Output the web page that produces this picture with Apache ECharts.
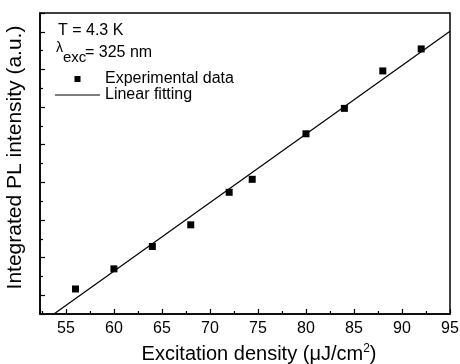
<!DOCTYPE html>
<html>
<head>
<meta charset="utf-8">
<script src="https://cdn.jsdelivr.net/npm/echarts@6/dist/echarts.min.js"></script>
<style>
  html, body { margin: 0; padding: 0; background: #fff; }
  #chart { width: 460px; height: 364px; }
</style>
</head>
<body>
<div id="chart"></div>
<script>
// excitation density (uJ/cm2) vs integrated PL intensity (arb. units)
const excitation = [56, 60, 64, 68, 72, 74.4, 80, 84, 88, 92]
const intensity = [0.33, 1.40, 2.59, 3.74, 5.47, 6.16, 8.58, 9.93, 11.92, 13.09]

// linear fit end points
const fitX = [53.75, 95]
const fitY = [-1, 14.03]

const font = 'Liberation Sans, Arial, sans-serif'

const chart = echarts.init(document.getElementById('chart'))

const option = {
  animation: false,
  backgroundColor: '#fff',
  textStyle: { fontFamily: font, color: '#000' },
  grid: {
    left: 40, right: 10, top: 13, bottom: 50,
    outerBoundsMode: 'none',
    containLabel: false,
    show: true,
    borderColor: '#000',
    borderWidth: 1.5,
    backgroundColor: 'transparent'
  },
  xAxis: {
    type: 'value',
    min: 52.3,
    max: 95,
    splitNumber: 8,
    name: '{t|Excitation density (\u03bcJ/cm}{sup|2}{t|)}',
    nameLocation: 'middle',
    nameGap: 29,
    nameTextStyle: {
      padding: [0, 0, 0, 28],
      rich: {
        t: { fontSize: 20, fontFamily: font, color: '#000' },
        sup: { fontSize: 12, fontFamily: font, color: '#000', padding: [0, 0, 11, 0] }
      }
    },
    axisLine: { onZero: false, lineStyle: { color: '#000', width: 1.5 } },
    axisTick: { inside: true, length: 5, lineStyle: { color: '#000', width: 1.2 } },
    minorTick: { show: true, splitNumber: 2, length: 3, lineStyle: { color: '#000', width: 1.2 } },
    axisLabel: { showMinLabel: false, fontSize: 16, margin: 7, color: '#000', fontFamily: font },
    splitLine: { show: false }
  },
  yAxis: {
    type: 'value',
    min: -1,
    max: 15,
    splitNumber: 8,
    name: 'Integrated PL intensity (a.u.)',
    nameLocation: 'middle',
    nameGap: 14,
    nameTextStyle: { fontSize: 21, fontFamily: font, color: '#000', padding: [0, 0, 0, 12] },
    axisLine: { onZero: false, lineStyle: { color: '#000', width: 1.5 } },
    axisTick: { inside: true, length: 5, lineStyle: { color: '#000', width: 1.2 } },
    minorTick: { show: true, splitNumber: 2, length: 3, lineStyle: { color: '#000', width: 1.2 } },
    axisLabel: { show: false },
    splitLine: { show: false }
  },
  legend: [
    {
      data: [{ name: 'Experimental data', icon: 'path://M0,0M19.5,0H25.5V6H19.5ZM45,6' }],
      left: 55, top: 71, padding: 0,
      itemWidth: 45, itemHeight: 6,
      textStyle: { fontSize: 16, fontFamily: font, color: '#000' }
    },
    {
      data: [{ name: 'Linear fitting', icon: 'rect' }],
      left: 55, top: 87, padding: 0,
      itemWidth: 45, itemHeight: 1.2,
      textStyle: { fontSize: 16, fontFamily: font, color: '#000' }
    }
  ],
  graphic: [
    { type: 'text', left: 58, top: 23, style: { text: 'T = 4.3 K', font: '16px ' + font, fill: '#000' } },
    { type: 'text', left: 56, top: 41, style: { text: '\u03bb', font: '14px ' + font, fill: '#000' } },
    { type: 'text', left: 63, top: 50, style: { text: 'exc', font: '15px ' + font, fill: '#000' } },
    { type: 'text', left: 85, top: 45, style: { text: '= 325 nm', font: '16px ' + font, fill: '#000' } }
  ],
  series: [
    {
      name: 'Experimental data',
      type: 'scatter',
      symbol: 'rect',
      symbolSize: 7,
      itemStyle: { color: '#000', opacity: 1 },
      data: excitation.map((x, i) => [x, intensity[i]]),
      z: 3
    },
    {
      name: 'Linear fitting',
      type: 'line',
      symbol: 'none',
      showSymbol: false,
      lineStyle: { color: '#000', width: 1.2 },
      itemStyle: { color: '#000' },
      data: fitX.map((x, i) => [x, fitY[i]]),
      z: 2
    }
  ]
}

chart.setOption(option)
</script>
</body>
</html>
